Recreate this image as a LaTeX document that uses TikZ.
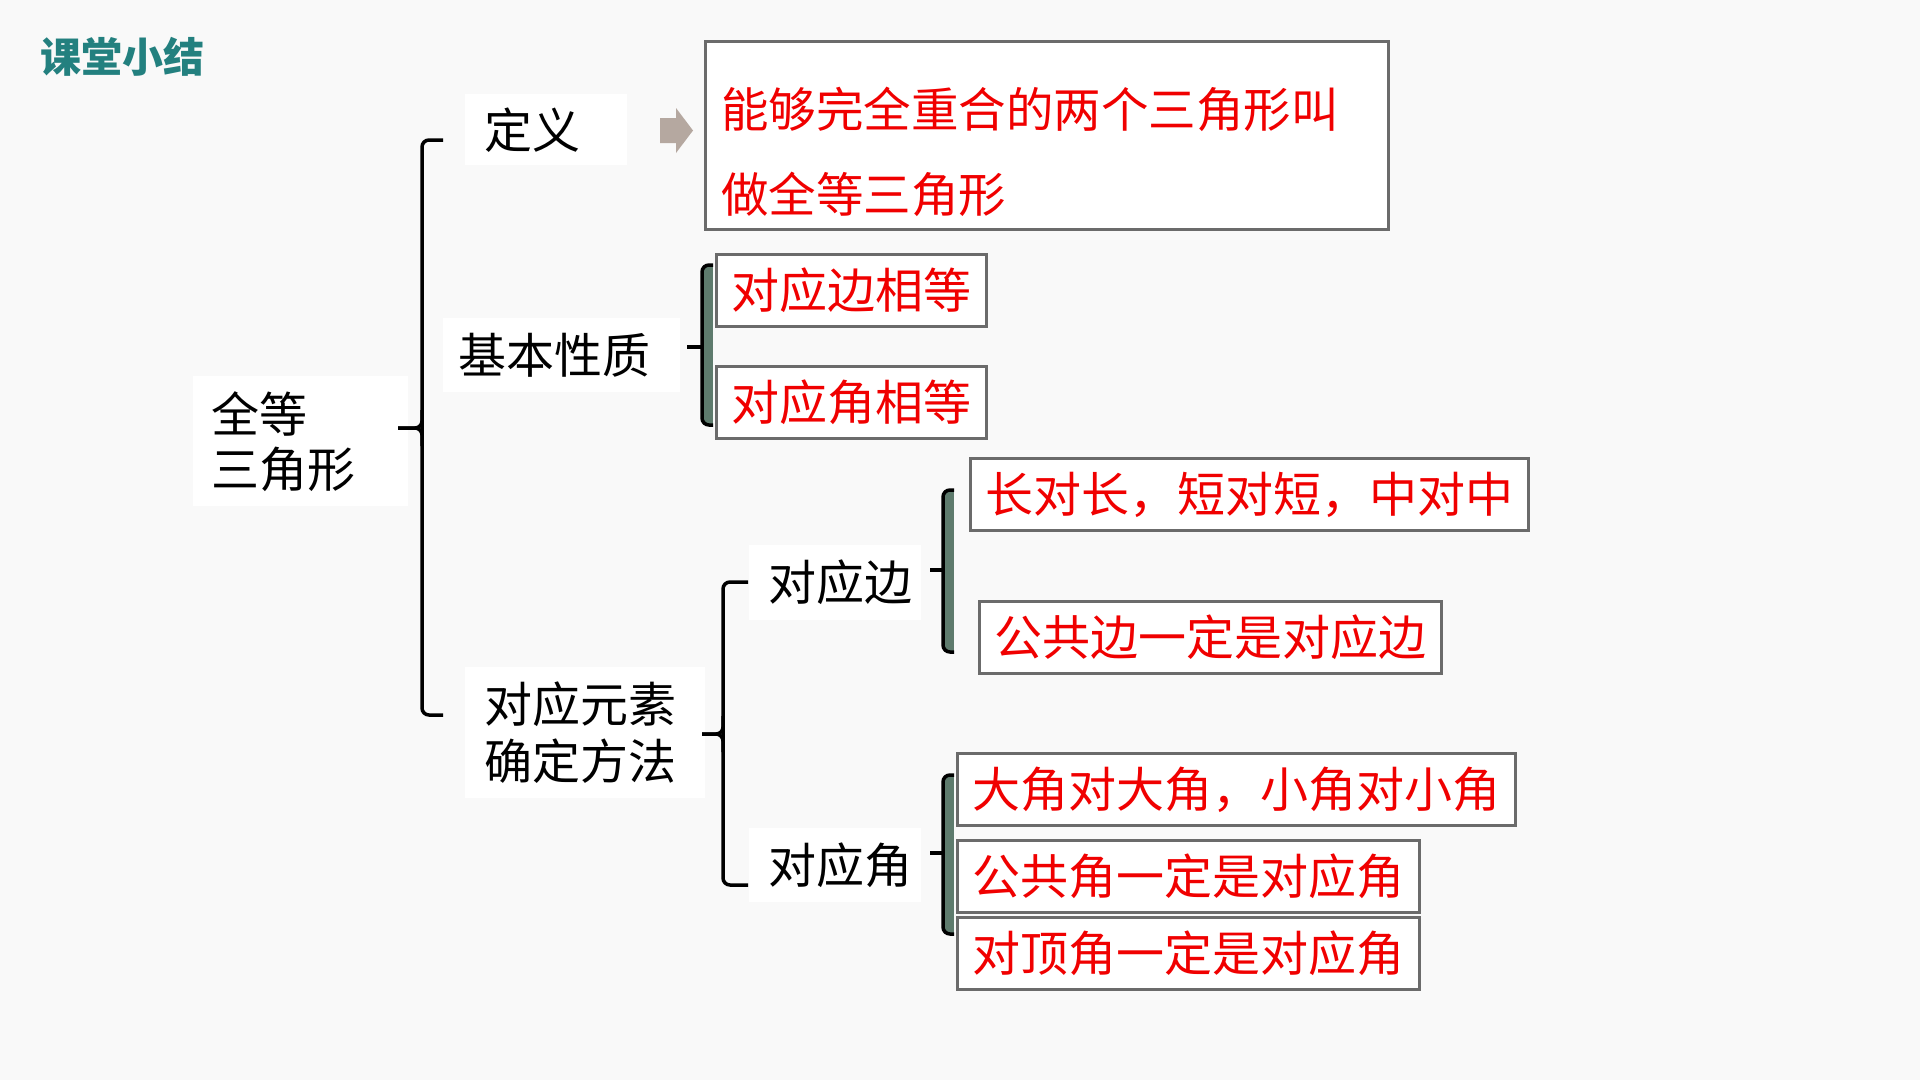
\documentclass[tikz,border=0pt]{standalone}
\usepackage{fontspec}
\setmainfont{Noto Sans CJK SC}
\definecolor{bggray}{HTML}{F9F9F9}
\definecolor{titleteal}{HTML}{23807F}
\definecolor{boxgray}{HTML}{6B6B6B}
\definecolor{bargreen}{HTML}{5E7B6D}
\definecolor{arrowtaupe}{HTML}{B5A8A0}
\definecolor{textred}{HTML}{F00000}
\tikzset{
  plainbox/.style={fill=white,inner ysep=0pt,align=left,anchor=north west,
    font=\fontsize{48}{56}\selectfont},
  redbox/.style={draw=boxgray,line width=3pt,fill=white,text=textred,
    inner xsep=15pt,inner ysep=0pt,minimum height=72pt,anchor=north west,
    font=\fontsize{48}{56}\selectfont},
  bracket/.style={line width=3.5pt,rounded corners=7pt},
  greenbar/.style={fill=bargreen}
}

\begin{document}
\begin{tikzpicture}[x=1pt,y=-1pt]
  \useasboundingbox (0,0) rectangle (1920,1080);
  \fill[bggray] (0,0) rectangle (1920,1080);

  \node[anchor=north west,inner sep=0pt,text=titleteal,
    font=\fontsize{41}{48}\selectfont\bfseries] (ttl) at (40,37) {课堂小结};

  % left column
  \node[plainbox,inner xsep=18pt,text width=179pt,minimum height=130pt,
    font=\fontsize{48}{55}\selectfont] (qd) at (193,376) {全等\\三角形};
  \node[plainbox,inner xsep=19pt,text width=124pt,minimum height=71pt] (dy) at (465,94) {定义};
  \node[plainbox,inner xsep=15pt,text width=207pt,minimum height=74pt] (jbxz) at (443,318) {基本性质};
  \node[plainbox,inner xsep=19pt,text width=202pt,minimum height=131pt,
    font=\fontsize{48}{57}\selectfont] (dyys) at (465,667) {对应元素\\确定方法};
  \node[plainbox,inner xsep=19pt,text width=134pt,minimum height=75pt] (dyb) at (749,545) {对应边};
  \node[plainbox,inner xsep=19pt,text width=134pt,minimum height=74pt] (dyj) at (749,828) {对应角};

  % definition
  \fill[arrowtaupe] (660,118) -- (676,118) -- (676,108) -- (693,130.5)
    -- (676,153) -- (676,143) -- (660,143) -- cycle;
  \node[draw=boxgray,line width=3pt,fill=white,anchor=north west,
    minimum width=683pt,minimum height=188pt] (dfn) at (704,40) {};
  \node[anchor=west,inner sep=0pt,align=left,text=textred,
    font=\fontsize{47.5}{85}\selectfont] (dfntxt) at (721,151.5)
    {能够完全重合的两个三角形叫\\做全等三角形};

  % red boxes
  \node[redbox] (xb) at (715,253) {对应边相等};
  \node[redbox] (xj) at (715,365) {对应角相等};
  \node[redbox] (bc) at (969,457) {长对长，短对短，中对中};
  \node[redbox] (bg) at (978,600) {公共边一定是对应边};
  \node[redbox] (jd) at (956,752) {大角对大角，小角对小角};
  \node[redbox] (jg) at (956,839) {公共角一定是对应角};
  \node[redbox] (jdd) at (956,916) {对顶角一定是对应角};

  % braces
  \draw[bracket] (443,140) -- (422,140) -- (422,715) -- (443,715);
  \draw[bracket] (398,428) -- (422,428) -- (422,410);
  \draw[bracket] (398,428) -- (422,428) -- (422,446);

  \draw[bracket] (748,582) -- (723,582) -- (723,885) -- (748,885);
  \draw[bracket] (702,734) -- (723,734) -- (723,716);
  \draw[bracket] (702,734) -- (723,734) -- (723,752);

  \fill[greenbar] (703,265) rectangle (713,425);
  \draw[bracket] (713,265) -- (702,265) -- (702,425) -- (713,425);
  \draw[bracket] (687,347) -- (702,347);

  \fill[greenbar] (944,490) rectangle (954,652);
  \draw[bracket] (954,490) -- (943,490) -- (943,652) -- (954,652);
  \draw[bracket] (930,570) -- (943,570);

  \fill[greenbar] (944,775) rectangle (954,934);
  \draw[bracket] (954,775) -- (943,775) -- (943,934) -- (954,934);
  \draw[bracket] (930,853) -- (943,853);
\end{tikzpicture}
\end{document}
